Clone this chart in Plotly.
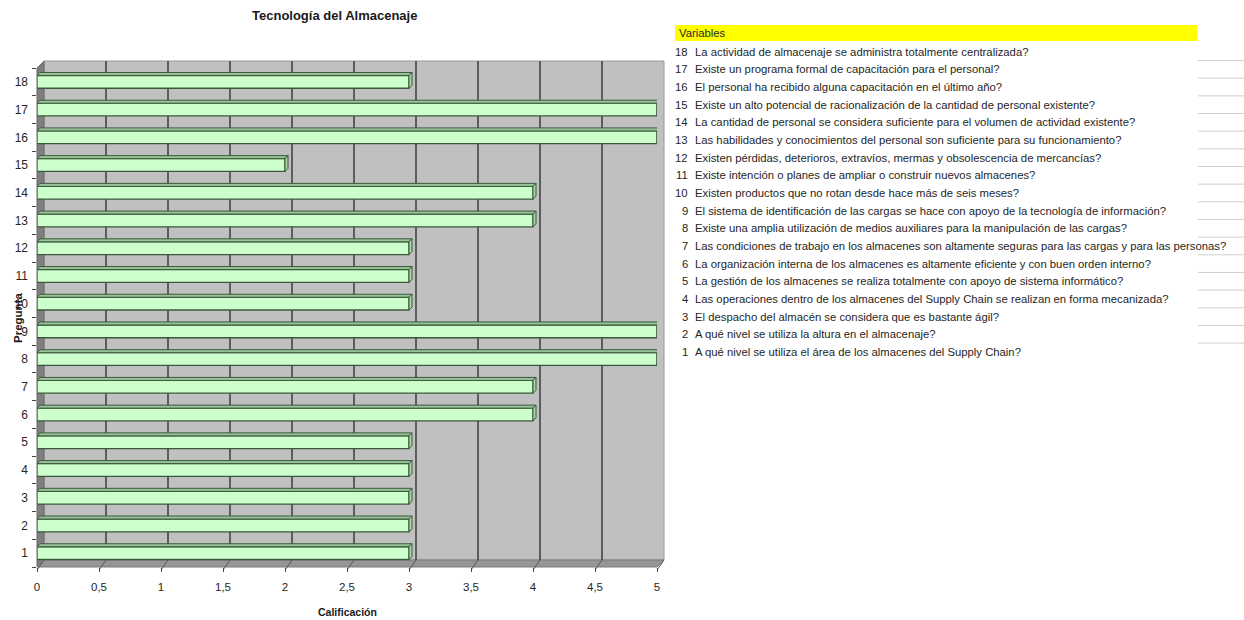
import plotly.graph_objects as go

# ---------------- data ----------------
preguntas = list(range(1, 19))
calificacion = [3, 3, 3, 3, 3, 4, 4, 5, 5, 3, 3, 3, 4, 4, 2, 5, 5, 3]
x_tick_vals = [0, 0.5, 1, 1.5, 2, 2.5, 3, 3.5, 4, 4.5, 5]
x_tick_text = ["0", "0,5", "1", "1,5", "2", "2,5", "3", "3,5", "4", "4,5", "5"]
y_tick_text = [str(p) for p in preguntas]
titulo = "Tecnología del Almacenaje"
titulo_x = "Calificación"
titulo_y = "Pregunta"
encabezado_lista = "Variables"
variables = [
    "A qué nivel se utiliza el área de los almacenes del Supply Chain?",
    "A qué nivel se utiliza la altura en el almacenaje?",
    "El despacho del almacén se considera que es bastante ágil?",
    "Las operaciones dentro de los almacenes del Supply Chain se realizan en forma mecanizada?",
    "La gestión de los almacenes se realiza totalmente con apoyo de sistema informático?",
    "La organización interna de los almacenes es altamente eficiente y con buen orden interno?",
    "Las condiciones de trabajo en los almacenes son altamente seguras para las cargas y para las personas?",
    "Existe una amplia utilización de medios auxiliares para la manipulación de las cargas?",
    "El sistema de identificación de las cargas se hace con apoyo de la tecnología de información?",
    "Existen productos que no rotan desde hace más de seis meses?",
    "Existe intención o planes de ampliar o construir nuevos almacenes?",
    "Existen pérdidas, deterioros, extravíos, mermas y obsolescencia de mercancías?",
    "Las habilidades y conocimientos del personal son suficiente para su funcionamiento?",
    "La cantidad de personal se considera suficiente para el volumen de actividad existente?",
    "Existe un alto potencial de racionalización de la cantidad de personal existente?",
    "El personal ha recibido alguna capacitación en el último año?",
    "Existe un programa formal de capacitación para el personal?",
    "La actividad de almacenaje se administra totalmente centralizada?",
]

# ---------------- layout constants (pixels) ----------------
W, H = 1244, 620
L, R, T, B = 37, 657, 68, 567
DX, DY = 7, 7          # depth of the 3D box
XMAX = 5
PX_PER_X = (R - L) / XMAX
BAR_W = 0.46
PX_PER_Y = (B - T) / 18
HB = BAR_W * PX_PER_Y / 2   # half bar height in px
BD = 3                       # bar depth in px

FONT = "Liberation Sans, Arial, sans-serif"
TXT = "#262626"
LIST_SIZE = 11.3


def px(xp):
    return (xp - L) / (R - L)


def py(yp):
    return (B - yp) / (B - T)


fig = go.Figure()
fig.add_trace(go.Bar(
    x=calificacion, y=preguntas, orientation="h", width=BAR_W,
    marker=dict(color="#ccffcc", line=dict(color="#3a583a", width=1.3)),
    hoverinfo="x+y", showlegend=False,
))

shapes = []
# back wall
shapes.append(dict(type="rect", xref="paper", yref="paper", layer="below",
                   x0=px(L + DX), x1=px(R + DX), y0=py(B - DY), y1=py(T - DY),
                   fillcolor="#c0c0c0", line=dict(color="#9a9a9a", width=1)))
# left side wall
shapes.append(dict(type="path", xref="paper", yref="paper", layer="below",
                   path=f"M {px(L)},{py(B)} L {px(L)},{py(T)} L {px(L+DX)},{py(T-DY)} L {px(L+DX)},{py(B-DY)} Z",
                   fillcolor="#7f7f7f", line=dict(color="#6a6a6a", width=1)))
# floor
shapes.append(dict(type="path", xref="paper", yref="paper", layer="below",
                   path=f"M {px(L)},{py(B)} L {px(R)},{py(B)} L {px(R+DX)},{py(B-DY)} L {px(L+DX)},{py(B-DY)} Z",
                   fillcolor="#969696", line=dict(color="#7a7a7a", width=1)))
# back-wall grid lines and floor lines
for v in x_tick_vals:
    xp = L + v * PX_PER_X
    if 0 < v < XMAX:
        shapes.append(dict(type="line", xref="paper", yref="paper", layer="below",
                           x0=px(xp + DX), x1=px(xp + DX), y0=py(B - DY), y1=py(T - DY),
                           line=dict(color="#3c3c3c", width=1.5)))
    shapes.append(dict(type="line", xref="paper", yref="paper", layer="below",
                       x0=px(xp + DX), x1=px(xp), y0=py(B - DY), y1=py(B + 3),
                       line=dict(color="#555555", width=1)))

# 3D faces of the bars
d_data = BD / PX_PER_X
for p, v in zip(preguntas, calificacion):
    # top face
    shapes.append(dict(type="path", xref="x", yref="y", ysizemode="pixel", yanchor=p,
                       path=f"M 0,{HB} L {v},{HB} L {v + d_data},{HB + BD} L {d_data},{HB + BD} Z",
                       fillcolor="#99c499", line=dict(color="#3a583a", width=1)))
    # end cap
    shapes.append(dict(type="path", xref="x", yref="y", xsizemode="pixel", ysizemode="pixel",
                       xanchor=v, yanchor=p,
                       path=f"M 0,{-HB} L 0,{HB} L {BD},{HB + BD} L {BD},{-HB + BD} Z",
                       fillcolor="#a8d8a8", line=dict(color="#3a583a", width=1)))

# right-hand list
ROW0, ROWD = 51.7, 17.66
shapes.append(dict(type="rect", xref="paper", yref="paper", layer="below",
                   x0=px(675), x1=px(1197), y0=py(41), y1=py(25),
                   fillcolor="#ffff00", line=dict(width=0)))
annotations = [
    dict(text=encabezado_lista, x=px(677), y=py(33), xanchor="left", yanchor="middle",
         xref="paper", yref="paper", showarrow=False, font=dict(family=FONT, size=LIST_SIZE, color=TXT)),
]
for k, p in enumerate(reversed(preguntas)):
    yc = ROW0 + k * ROWD
    annotations.append(dict(text=str(p), x=px(690), y=py(yc), xanchor="right", yanchor="middle",
                            xref="paper", yref="paper", showarrow=False,
                            font=dict(family=FONT, size=LIST_SIZE, color=TXT)))
    annotations.append(dict(text=variables[p - 1], x=px(693), y=py(yc), xanchor="left", yanchor="middle",
                            xref="paper", yref="paper", showarrow=False,
                            font=dict(family=FONT, size=LIST_SIZE, color=TXT)))
    if p > 1:
        shapes.append(dict(type="line", xref="paper", yref="paper",
                           x0=px(1198), x1=px(1244), y0=py(yc + ROWD / 2), y1=py(yc + ROWD / 2),
                           line=dict(color="#cfcfcf", width=1)))

# titles
annotations.append(dict(text=f"<b>{titulo}</b>", x=px(334), y=py(15), xanchor="center", yanchor="middle",
                        xref="paper", yref="paper", showarrow=False,
                        font=dict(family=FONT, size=13, color="#1a1a1a")))
annotations.append(dict(text=f"<b>{titulo_x}</b>", x=px(347), y=py(612), xanchor="center", yanchor="middle",
                        xref="paper", yref="paper", showarrow=False,
                        font=dict(family=FONT, size=10.5, color="#1a1a1a")))
annotations.append(dict(text=f"<b>{titulo_y}</b>", x=px(18), y=py(318), xanchor="center", yanchor="middle",
                        xref="paper", yref="paper", showarrow=False, textangle=-90,
                        font=dict(family=FONT, size=11.5, color="#1a1a1a")))

fig.update_layout(
    template="none",
    width=W, height=H,
    margin=dict(l=L, r=W - R, t=T, b=H - B, pad=0),
    paper_bgcolor="white", plot_bgcolor="rgba(0,0,0,0)",
    shapes=shapes, annotations=annotations,
    bargap=0.5,
    xaxis=dict(range=[0, XMAX], tickvals=x_tick_vals, ticktext=x_tick_text,
               showgrid=False, zeroline=False, showline=False, automargin=False,
               ticks="outside", ticklen=4, tickcolor="#444", ticklabelstandoff=5,
               tickfont=dict(family=FONT, size=11.5, color=TXT), fixedrange=True),
    yaxis=dict(range=[0.5, 18.5], tickvals=preguntas, ticktext=y_tick_text,
               showgrid=False, zeroline=False, showline=False, automargin=False,
               ticks="", ticklabelstandoff=8,
               minor=dict(tickvals=[i + 0.5 for i in range(0, 19)], ticks="outside",
                          ticklen=4, tickcolor="#444"),
               tickfont=dict(family=FONT, size=12, color=TXT), fixedrange=True),
)

fig.write_html("out.html")
